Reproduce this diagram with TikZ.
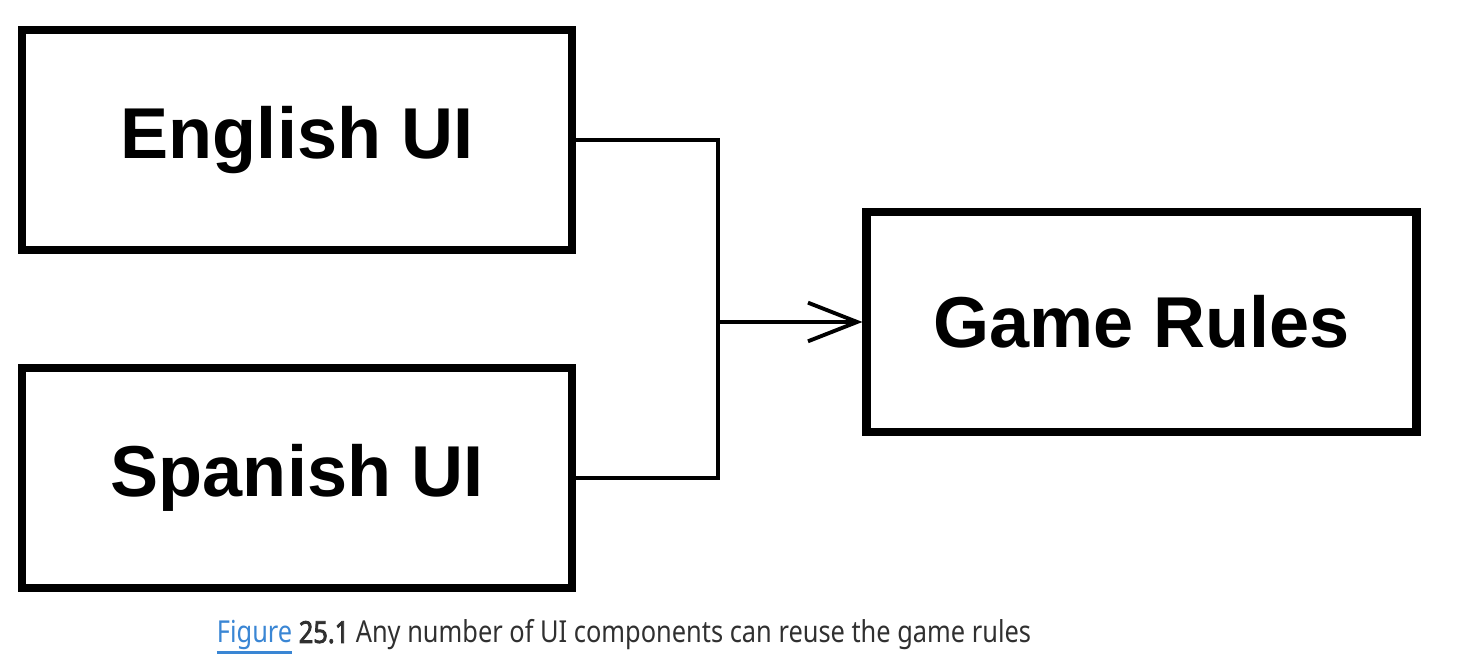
\documentclass[tikz,border=0pt]{standalone}
\usepackage{fontspec}
\setmainfont{Liberation Sans}
\newfontfamily\capfont[FakeStretch=0.84]{Noto Sans}
\newfontfamily\capbold[FakeStretch=0.84,FakeBold=2.5]{Noto Sans}
\usetikzlibrary{arrows.meta}
\definecolor{figblue}{HTML}{3A86D4}
\definecolor{captext}{HTML}{303030}
\newcommand{\figlink}[1]{\textcolor{figblue}{\setbox0\hbox{#1}\rlap{\rule[-3.2pt]{\wd0}{0.8pt}}\box0}}

\tikzset{
    uibox/.style={draw, line width=2.3pt, minimum width=5.5cm, minimum height=2.2cm,
                  font=\fontsize{20.5}{24}\selectfont\bfseries},
    link/.style={line width=0.9pt},
}

\begin{document}
\begin{tikzpicture}
    \useasboundingbox (0,0) rectangle (14.6,6.68);

    \node[uibox] (eng)  at (2.97,5.28) {English UI};
    \node[uibox] (spa)  at (2.97,1.90) {Spanish UI};
    \node[uibox] (game) at (11.415,3.46) {Game Rules};

    \coordinate (join) at (7.18,3.46);

    \draw[link] (eng.east) -| (join) |- (spa.east);
    \draw[link, -{Straight Barb[length=14pt,width=11pt,line width=1.1pt]}] (join) -- (game.west);

    \node[font=\capfont\fontsize{8.6}{10}\selectfont, text=captext] (caption) at (6.24,0.31)
        {\figlink{Figure} {\capbold 25.1} Any number of UI components can reuse the game rules};
\end{tikzpicture}
\end{document}
